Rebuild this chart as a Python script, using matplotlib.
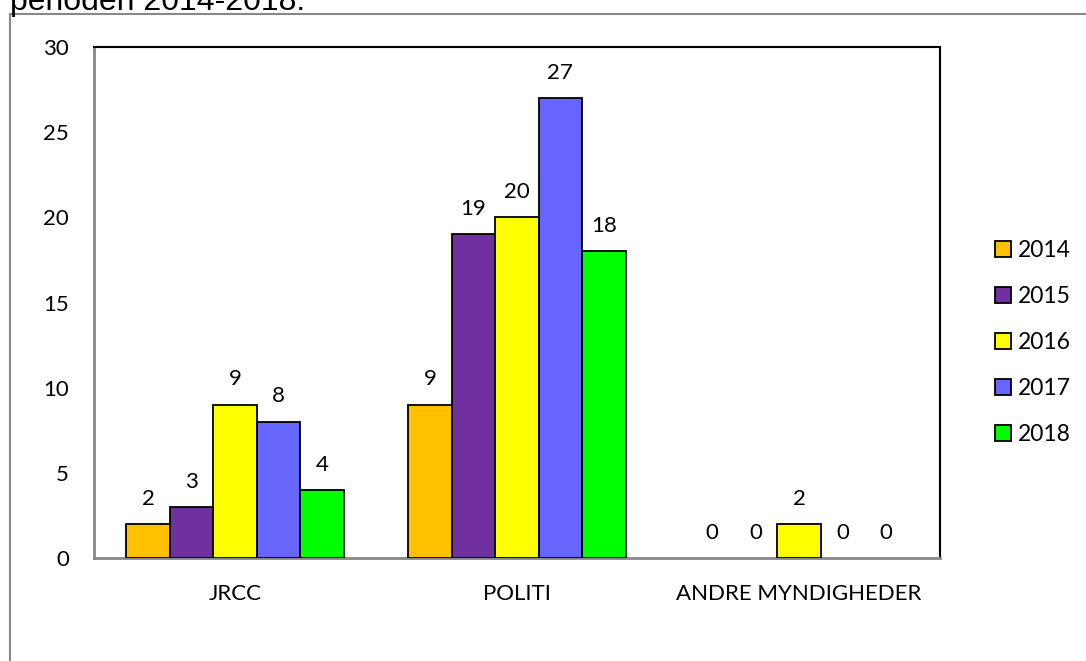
import matplotlib.pyplot as plt
import numpy as np
from matplotlib.lines import Line2D

plt.rcParams['font.family'] = ['Lato', 'DejaVu Sans']

categories = ['JRCC', 'POLITI', 'ANDRE MYNDIGHEDER']
years = ['2014', '2015', '2016', '2017', '2018']
values = {
    '2014': [2, 9, 0],
    '2015': [3, 19, 0],
    '2016': [9, 20, 2],
    '2017': [8, 27, 0],
    '2018': [4, 18, 0],
}
colors = ['#FFC000', '#7030A0', '#FFFF00', '#6666FF', '#00FF00']

fig = plt.figure(figsize=(10.86, 6.61), dpi=100)
ax = fig.add_axes([94 / 1086, 1 - 558 / 661, (940 - 94) / 1086, (558 - 47) / 661])

x = np.arange(len(categories))
w = 0.154
for i, yr in enumerate(years):
    pos = x + (i - 2) * w
    vals = values[yr]
    # zero-height bars are not outlined in the original
    lws = [1.3 if v > 0 else 0 for v in vals]
    ax.bar(pos, vals, width=w, color=colors[i], edgecolor='black', linewidth=lws,
           label=yr, zorder=3)
    for px, v in zip(pos, vals):
        ax.annotate(str(v), (px, v), xytext=(0, 11), textcoords='offset points',
                    ha='center', va='bottom', fontsize=16)

ax.set_xlim(-0.5, 2.5)
ax.set_ylim(0, 30)
ax.set_yticks(range(0, 31, 5))
ax.set_xticks(x)
ax.set_xticklabels(categories)
ax.tick_params(axis='y', length=0, pad=18, labelsize=16)
ax.tick_params(axis='x', length=0, pad=19, labelsize=16)
for s in ['top', 'right']:
    ax.spines[s].set_color('black')
    ax.spines[s].set_linewidth(1.5)
for s in ['left', 'bottom']:
    ax.spines[s].set_color('#888888')
    ax.spines[s].set_linewidth(2)

leg = fig.legend(loc='center left', bbox_to_anchor=(995 / 1086, 1 - 342.5 / 661),
                 frameon=False, fontsize=16.5, handlelength=0.7, handleheight=0.7,
                 handletextpad=0.3, labelspacing=1.1, borderpad=0, borderaxespad=0)

# outer frame of the embedded chart
fig.add_artist(Line2D([10 / 1086, 10 / 1086], [0, 1 - 14 / 661], color='#888888', lw=1.5))
fig.add_artist(Line2D([10 / 1086, 1], [1 - 14 / 661, 1 - 14 / 661], color='#888888', lw=1.5))

# cut-off caption above the chart
fig.text(10 / 1086, 1 - 10 / 661, 'perioden 2014-2018.', fontsize=23,
         family='Liberation Sans', va='baseline', ha='left')

fig.savefig('out.png', dpi=100)
